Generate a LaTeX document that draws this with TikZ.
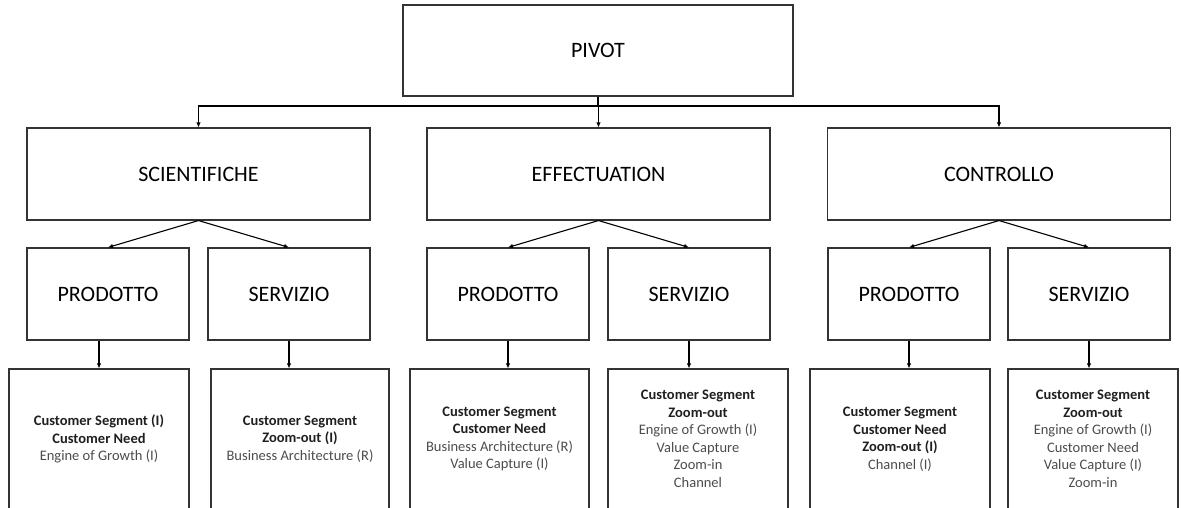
\documentclass[tikz,border=0pt]{standalone}
\usepackage{fontspec}
\setmainfont{Carlito}
\usetikzlibrary{arrows.meta}
\newcommand{\hd}[1]{\textbf{\color{black!88}#1}}
\tikzset{
  box/.style={draw=black!80, line width=1.1pt, inner sep=0pt, align=center},
  headbox/.style={box, minimum height=92, font=\fontsize{22}{26}\selectfont},
  itembox/.style={box, minimum height=140, text=black!70, font=\fontsize{14.5}{17.5}\selectfont}
}
\begin{document}
\begin{tikzpicture}[x=1pt, y=-1pt, >={Latex[length=5pt,width=4.5pt]}, line width=1.1pt]
        \useasboundingbox (0,0) rectangle (1181,508);
        \node[headbox, minimum width=390, minimum height=91] (pivot) at (598,50.5) {PIVOT};
        \coordinate (bus) at (598,106);
        \foreach \grp/\x/\t in {sci/198.5/SCIENTIFICHE, eff/598.5/EFFECTUATION, con/999/CONTROLLO} {
            \node[headbox, minimum width=343] (\grp) at (\x,174) {\t};
            \draw[->] (pivot.south) -- (bus) -| (\grp.north);
        }
        \foreach \grp/\xp/\xs in {sci/108/289, eff/508/689, con/909/1089} {
            \node[headbox, minimum width=162] (\grp P) at (\xp,294) {PRODOTTO};
            \node[headbox, minimum width=162] (\grp S) at (\xs,294) {SERVIZIO};
            \draw[->] (\grp.south) -- (\grp P.north);
            \draw[->] (\grp.south) -- (\grp S.north);
        }
        \node[itembox, minimum width=180] (sciPb) at (99,439)
            {\hd{Customer Segment (I)}\\\hd{Customer Need}\\Engine of Growth (I)};
        \node[itembox, minimum width=178] (sciSb) at (300,439)
            {\hd{Customer Segment}\\\hd{Zoom-out (I)}\\Business Architecture (R)};
        \node[itembox, minimum width=179] (effPb) at (499.5,439)
            {\hd{Customer Segment}\\\hd{Customer Need}\\Business Architecture (R)\\Value Capture (I)};
        \node[itembox, minimum width=180] (effSb) at (698,439)
            {\hd{Customer Segment}\\\hd{Zoom-out}\\Engine of Growth (I)\\Value Capture\\Zoom-in\\Channel};
        \node[itembox, minimum width=180] (conPb) at (900,439)
            {\hd{Customer Segment}\\\hd{Customer Need}\\\hd{Zoom-out (I)}\\Channel (I)};
        \node[itembox, minimum width=170] (conSb) at (1093,439)
            {\hd{Customer Segment}\\\hd{Zoom-out}\\Engine of Growth (I)\\Customer Need\\Value Capture (I)\\Zoom-in};
        \draw[->] (sciP.south -| sciPb.north) -- (sciPb.north);
        \draw[->] (sciS.south) -- (sciS.south |- sciSb.north);
        \draw[->] (effP.south) -- (effP.south |- effPb.north);
        \draw[->] (effS.south) -- (effS.south |- effSb.north);
        \draw[->] (conP.south) -- (conP.south |- conPb.north);
        \draw[->] (conS.south) -- (conS.south |- conSb.north);
    \end{tikzpicture}
\end{document}
